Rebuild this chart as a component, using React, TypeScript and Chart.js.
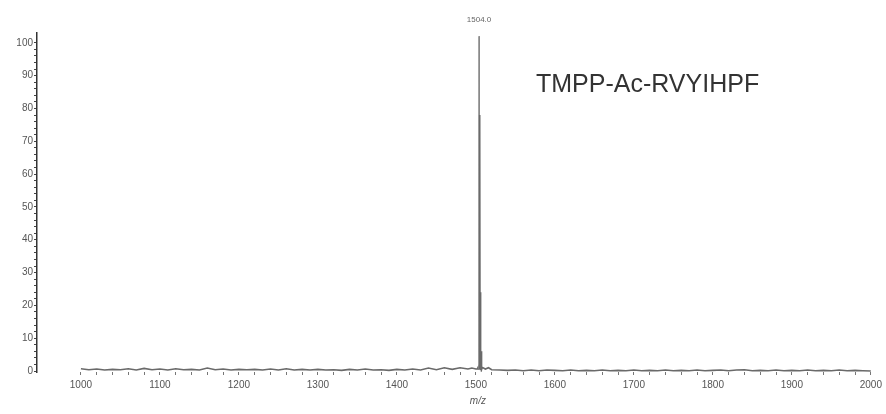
import React, { useEffect, useRef } from "react";
import { Chart, registerables } from "chart.js";

Chart.register(...registerables);

// m/z positions of the profile points
const mzValues: number[] = [
  1000, 1010, 1020, 1030, 1040, 1050, 1060, 1070, 1080, 1090,
  1100, 1110, 1120, 1130, 1140, 1150, 1160, 1170, 1180, 1190,
  1200, 1210, 1220, 1230, 1240, 1250, 1260, 1270, 1280, 1290,
  1300, 1310, 1320, 1330, 1340, 1350, 1360, 1370, 1380, 1390,
  1400, 1410, 1420, 1430, 1440, 1450, 1460, 1470, 1480, 1490,
  1495, 1500, 1502, 1503, 1503.6, 1504, 1504.4, 1504.7, 1505, 1505.3,
  1505.7, 1506, 1506.3, 1506.7, 1507, 1507.4, 1508, 1512, 1516, 1520,
  1530, 1540, 1550, 1560, 1570, 1580, 1590, 1600, 1610, 1620,
  1630, 1640, 1650, 1660, 1670, 1680, 1690, 1700, 1710, 1720,
  1730, 1740, 1750, 1760, 1770, 1780, 1790, 1800, 1810, 1820,
  1830, 1840, 1850, 1860, 1870, 1880, 1890, 1900, 1910, 1920,
  1930, 1940, 1950, 1960, 1970, 1980, 1990, 2000,
];

// relative intensity (%)
const intensityValues: number[] = [
  0.7, 0.4, 0.6, 0.3, 0.5, 0.4, 0.7, 0.3, 0.8, 0.4,
  0.6, 0.3, 0.7, 0.4, 0.5, 0.3, 0.9, 0.4, 0.6, 0.3,
  0.5, 0.4, 0.5, 0.3, 0.6, 0.3, 0.7, 0.3, 0.5, 0.3,
  0.5, 0.3, 0.4, 0.2, 0.5, 0.3, 0.6, 0.3, 0.4, 0.2,
  0.5, 0.3, 0.6, 0.3, 0.9, 0.4, 1.0, 0.5, 1.0, 0.6,
  0.9, 0.6, 0.7, 1.2, 0.4, 102, 0.6, 0.6, 78, 0.6,
  0.6, 24, 0.5, 0.5, 6, 0.5, 1.1, 0.6, 1.0, 0.4,
  0.3, 0.2, 0.3, 0.1, 0.3, 0.1, 0.3, 0.2, 0.1, 0.3,
  0.1, 0.2, 0.1, 0.3, 0.1, 0.2, 0.1, 0.3, 0.1, 0.2,
  0.1, 0.3, 0.1, 0.2, 0.1, 0.3, 0.1, 0.2, 0.3, 0.1,
  0.3, 0.4, 0.1, 0.2, 0.1, 0.3, 0.1, 0.2, 0.1, 0.3,
  0.1, 0.2, 0.1, 0.3, 0.1, 0.2, 0.1, 0.0,
];

const xTickLabels: number[] = [1000, 1100, 1200, 1300, 1400, 1500, 1600, 1700, 1800, 1900, 2000];
const yTickLabels: number[] = [0, 10, 20, 30, 40, 50, 60, 70, 80, 90, 100];

const peakLabelMz = 1504.0;
const peakLabelIntensity = 102;
const peakLabelText = "1504.0";
const sampleTitle = "TMPP-Ac-RVYIHPF";
const xAxisTitle = "m/z";
const xAxisTitleMz = 1500;

const FONT = "'Liberation Sans', Arial, sans-serif";

const textPlugin = {
  id: "spectrumText",
  afterDatasetsDraw(chart: any) {
    const { ctx, scales } = chart;
    const x = scales.x.getPixelForValue(peakLabelMz);
    const y = scales.y.getPixelForValue(peakLabelIntensity);
    ctx.save();
    ctx.fillStyle = "#666";
    ctx.font = `8px ${FONT}`;
    ctx.textAlign = "center";
    ctx.textBaseline = "bottom";
    ctx.fillText(peakLabelText, x, y - 12);
    ctx.fillStyle = "#555";
    ctx.font = `italic 10px ${FONT}`;
    ctx.textBaseline = "middle";
    ctx.fillText(xAxisTitle, scales.x.getPixelForValue(xAxisTitleMz) + 2, 401);
    ctx.fillStyle = "#333";
    ctx.font = `25px ${FONT}`;
    ctx.textAlign = "left";
    ctx.textBaseline = "alphabetic";
    ctx.fillText(sampleTitle, 536, 92);
    ctx.restore();
  },
};

export default function App() {
  const canvasRef = useRef<HTMLCanvasElement | null>(null);

  useEffect(() => {
    document.body.style.margin = "0";
    const canvas = canvasRef.current;
    if (!canvas) return;
    const points = mzValues.map((m, i) => ({ x: m, y: intensityValues[i] }));
    const chart = new Chart(canvas, {
      type: "line",
      data: {
        datasets: [
          {
            data: points,
            borderColor: "#6a6a6a",
            borderWidth: 1.6,
            pointRadius: 0,
            tension: 0,
            fill: false,
            segment: {
              borderWidth: (c: any) => (Math.max(c.p0.parsed.y, c.p1.parsed.y) > 90 ? 0.9 : 1.6),
              borderColor: (c: any) => (Math.max(c.p0.parsed.y, c.p1.parsed.y) > 90 ? "#888" : "#6a6a6a"),
            },
          },
        ],
      },
      options: {
        animation: false,
        responsive: false,
        maintainAspectRatio: false,
        layout: { padding: { top: 33, right: 8, bottom: 0, left: 0 } },
        plugins: { legend: { display: false }, tooltip: { enabled: false } },
        scales: {
          x: {
            type: "linear",
            min: 944.4,
            max: 2006.3,
            border: { display: false },
            grid: { drawOnChartArea: false, tickLength: 3, color: "#777", tickColor: "#777" },
            afterBuildTicks: (scale: any) => {
              const t: any[] = [];
              for (let v = xTickLabels[0]; v <= xTickLabels[xTickLabels.length - 1]; v += 20) t.push({ value: v });
              scale.ticks = t;
            },
            ticks: {
              autoSkip: false,
              maxRotation: 0,
              padding: 4,
              color: "#555",
              font: { family: FONT, size: 10 },
              callback: (v: any) => (xTickLabels.includes(Number(v)) ? String(v) : ""),
            },
            afterFit: (s: any) => {
              s.height = 42;
            },
          },
          y: {
            type: "linear",
            min: -0.3,
            max: 103,
            border: { display: true, color: "#333", width: 1.5 },
            grid: { drawOnChartArea: false, tickLength: 3, color: "#444", tickColor: "#444" },
            afterBuildTicks: (scale: any) => {
              const t: any[] = [];
              for (let v = yTickLabels[0]; v <= yTickLabels[yTickLabels.length - 1]; v += 2) t.push({ value: v });
              scale.ticks = t;
            },
            ticks: {
              autoSkip: false,
              padding: 1,
              color: "#555",
              font: { family: FONT, size: 10 },
              callback: (v: any) => (yTickLabels.includes(Number(v)) ? String(v) : ""),
            },
            afterFit: (s: any) => {
              s.width = 37;
            },
          },
        },
      },
      plugins: [textPlugin],
    });
    return () => chart.destroy();
  }, []);

  return (
    <div style={{ position: "absolute", left: 0, top: 0, width: 886, height: 414, background: "#fff" }}>
      <canvas ref={canvasRef} width={886} height={414} style={{ width: 886, height: 414 }} />
    </div>
  );
}
